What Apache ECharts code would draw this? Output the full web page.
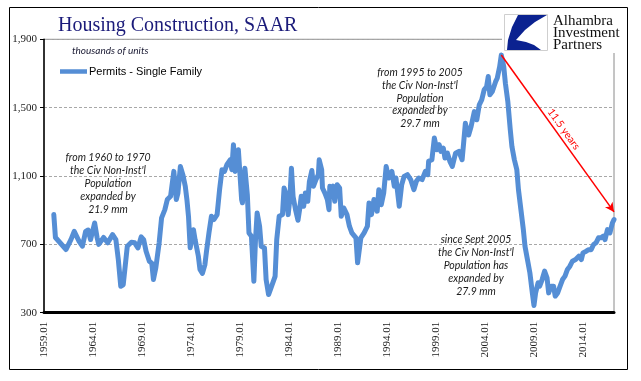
<!DOCTYPE html>
<html><head><meta charset="utf-8">
<script src="https://cdn.jsdelivr.net/npm/echarts@6/dist/echarts.min.js"></script>
<style>html,body{margin:0;padding:0;background:#fff}#c{width:641px;height:381px}</style>
</head><body><div id="c"></div>
<script>
// ---- data (thousands of units, SAAR) ----
const dates = ['1960.01','1960.03','1961.04','1961.10','1962.02','1962.08','1962.12','1963.04','1963.07','1963.10',
'1964.03','1964.06','1964.08','1965.02','1965.07','1966.01','1966.05','1966.08','1966.11','1967.02',
'1967.04','1967.07','1967.12','1968.04','1968.08','1968.12','1969.03','1969.06','1969.10','1970.01',
'1970.03','1970.06','1970.10','1971.01','1971.05','1971.08','1971.12','1972.04','1972.07','1972.09',
'1972.12','1973.03','1973.06','1973.08','1973.10','1973.12','1974.02','1974.04','1974.06','1974.10',
'1974.12','1975.03','1975.06','1975.08','1975.11','1976.02','1976.05','1976.09','1976.12','1977.03',
'1977.06','1977.09','1978.01','1978.03','1978.05','1978.07','1978.09','1978.11','1979.01','1979.03',
'1979.04','1979.07','1979.10','1979.12','1980.03','1980.06','1980.08','1980.10','1981.01','1981.03',
'1981.07','1981.09','1981.12','1982.03','1982.08','1982.10','1983.01','1983.05','1983.07','1983.09',
'1983.12','1984.02','1984.04','1984.06','1984.09','1984.12','1985.02','1985.04','1985.07','1985.09',
'1985.12','1986.02','1986.05','1986.07','1986.10','1987.01','1987.02','1987.05','1987.06','1987.09',
'1987.12','1988.02','1988.03','1988.04','1988.07','1988.09','1988.12','1989.03','1989.05','1989.08',
'1989.12','1990.03','1990.06','1990.11','1991.01','1991.05','1991.09','1992.01','1992.03','1992.06',
'1992.09','1993.01','1993.03','1993.06','1993.09','1993.12','1994.03','1994.07','1994.10','1994.12',
'1995.04','1995.07','1995.10','1996.02','1996.06','1996.10','1997.01','1997.04','1997.08','1997.12',
'1998.03','1998.04','1998.08','1998.11','1999.02','1999.05','1999.07','1999.10','1999.12','2000.03',
'2000.06','2000.09','2001.01','2001.05','2001.09','2001.11','2002.01','2002.03','2002.05','2002.08',
'2002.12','2003.03','2003.06','2003.09','2003.12','2004.03','2004.05','2004.07','2004.10','2005.02',
'2005.04','2005.07','2005.09','2005.12','2006.02','2006.05','2006.08','2006.10','2007.01','2007.04',
'2007.06','2007.09','2007.12','2008.02','2008.05','2008.08','2008.11','2009.01','2009.03','2009.06',
'2009.08','2009.11','2010.02','2010.05','2010.07','2010.10','2011.01','2011.03','2011.06','2011.09',
'2011.12','2012.03','2012.06','2012.09','2012.12','2013.04','2013.08','2013.11','2014.01','2014.05',
'2014.08','2014.11','2015.02','2015.05','2015.08','2015.11','2016.02','2016.04','2016.07','2016.10',
'2017.01','2017.03'];
const permits = [874,740,670,728,776,718,689,776,784,728,
825,740,700,740,709,757,728,611,455,463,
553,689,712,709,679,744,728,660,601,590,
494,565,709,855,903,962,981,1127,962,1000,
1156,1108,1040,962,860,680,669,786,728,631,
553,530,580,660,767,864,845,874,1020,1137,
1127,1166,1195,1137,1283,1127,1195,1254,1244,962,
943,1146,991,767,748,484,728,884,806,689,
679,494,406,445,513,728,864,874,1030,1000,
874,962,1146,981,903,841,903,981,923,1000,
952,1068,1132,1040,1079,1108,1195,1137,1030,1000,
962,903,1040,1020,1040,952,1049,1030,864,913,
874,806,767,738,592,738,767,806,942,874,
962,894,1020,932,1000,1156,1088,1127,1040,1088,
923,1049,1098,1108,1079,1020,1069,1088,1079,1127,
1108,1186,1195,1322,1254,1283,1244,1263,1205,1234,
1186,1156,1234,1244,1195,1300,1409,1361,1340,1390,
1477,1429,1516,1545,1604,1623,1682,1575,1594,1652,
1672,1740,1808,1740,1643,1535,1370,1273,1195,1137,
1020,903,786,689,611,533,416,342,416,475,
455,494,543,504,416,455,455,397,416,455,
494,514,553,572,601,611,631,611,650,660,
669,669,699,709,738,738,748,728,786,767,
825,845];
const xTickLabels = ['1959.01','1964.01','1969.01','1974.01','1979.01','1984.01','1989.01','1994.01','1999.01','2004.01','2009.01','2014.01'];
const yTickValues = [300, 700, 1100, 1500, 1900];
const seriesName = 'Permits - Single Family';
const unitsLabel = 'thousands of units';
const titleText = 'Housing Construction, SAAR';
const arrowFrom = ['2005.09', 1808];
const arrowTo = ['2017.03', 890];
const arrowLabel = '11.5 years';
const notes = [
  "from 1960 to 1970\nthe Civ Non-Inst'l\nPopulation\nexpanded by\n21.9 mm",
  "from 1995 to 2005\nthe Civ Non-Inst'l\nPopulation\nexpanded by\n29.7 mm",
  "since Sept 2005\nthe Civ Non-Inst'l\nPopulation has\nexpanded by\n27.9 mm"
];
const logoLines = 'Alhambra\nInvestment\nPartners';

// ---- build ----
function monthIndex(d){ const p = d.split('.').map(Number); return (p[0]-1959)*12 + (p[1]-1); }
const data = dates.map((d,i)=>[monthIndex(d), permits[i]]);
const xMax = monthIndex(dates[dates.length-1]);
const step = 60;

const chart = echarts.init(document.getElementById('c'), null, {renderer:'canvas'});
const noteFont = 'italic 10.5px Lato';
chart.setOption({
  animation:false,
  backgroundColor:'#fff',
  title:{text:titleText, left:53, top:11,
    textStyle:{fontFamily:'Liberation Serif', fontSize:20, fontWeight:'normal', color:'#1b1b7a'}},
  legend:{left:60, top:66, padding:0, icon:'rect', itemWidth:27, itemHeight:4.5, itemGap:0,
    textStyle:{fontFamily:'Liberation Sans', fontSize:11, color:'#000', padding:[0,0,0,-3]},
    data:[seriesName]},
  grid:{left:44, right:27, top:39.3, bottom:68.3, show:true, borderColor:'#8a8a8a', borderWidth:1, backgroundColor:'transparent'},
  xAxis:{type:'value', min:0, max:xMax, interval:step,
    axisLine:{show:true, onZero:false, lineStyle:{color:'#000', width:3}},
    axisTick:{show:false}, splitLine:{show:false},
    axisLabel:{rotate:90, margin:9, showMaxLabel:false, fontFamily:'Liberation Serif', fontSize:11, color:'#222',
      formatter:(v)=> (v % step === 0 && xTickLabels[v/step]) ? xTickLabels[v/step] : ''}},
  yAxis:{type:'value', min:yTickValues[0], max:yTickValues[yTickValues.length-1], interval:400,
    axisLine:{show:true, lineStyle:{color:'#000', width:1.5}},
    axisTick:{show:true, length:4, lineStyle:{color:'#000'}},
    splitLine:{show:true, lineStyle:{color:'#a8a8a8', type:[3,2], width:1}},
    axisLabel:{margin:7, fontFamily:'Liberation Serif', fontSize:11, color:'#222',
      formatter:(v)=> v.toLocaleString('en-US')}},
  series:[{
    name:seriesName, type:'line', data:data, showSymbol:false, symbol:'none',
    lineStyle:{color:'#558ed5', width:5, cap:'round', join:'round'},
    itemStyle:{color:'#558ed5'},
    markLine:{silent:true, symbol:['none','arrow'], symbolSize:[7,9], animation:false,
      lineStyle:{color:'#ff0000', width:1.5, type:'solid'},
      label:{show:true, position:'middle', formatter:arrowLabel, color:'#ff0000', fontFamily:'Lato', fontSize:10.5, distance:2},
      data:[[{coord:[monthIndex(arrowFrom[0]), arrowFrom[1]]},{coord:[monthIndex(arrowTo[0]), arrowTo[1]]}]]}
  }],
  graphic:[
    {type:'rect', z:100, shape:{x:9.5,y:7.5,width:618,height:362}, style:{fill:'none', stroke:'#000', lineWidth:1}},
    {type:'text', z:100, x:72, y:51, style:{text:unitsLabel, font:'italic 10px Lato', fill:'#1a1a33', verticalAlign:'middle'}},
    {type:'text', z:100, x:108, y:151, style:{text:notes[0], font:noteFont, lineHeight:13, fill:'#1a1a1a', align:'center', verticalAlign:'top'}},
    {type:'text', z:100, x:420, y:66.5, style:{text:notes[1], font:noteFont, lineHeight:12.7, fill:'#1a1a1a', align:'center', verticalAlign:'top'}},
    {type:'text', z:100, x:476, y:233.5, style:{text:notes[2], font:noteFont, lineHeight:13, fill:'#1a1a1a', align:'center', verticalAlign:'top'}},
    {type:'rect', z:100, shape:{x:502,y:12,width:124,height:41}, style:{fill:'#fff'}},
    {type:'rect', z:101, shape:{x:504.5,y:14.5,width:43,height:36}, style:{fill:'#fff', stroke:'#cfcfcf', lineWidth:1}},
    {type:'polygon', z:102, shape:{points:[[518,15],[547,15],[535,22],[525,30],[516,40],[526,42],[534,45],[541,50],[507,50],[508,40],[512,27]]}, style:{fill:'#0b2290'}},
    {type:'text', z:102, x:553, y:15, style:{text:logoLines, font:'15px Liberation Serif', lineHeight:12, fill:'#111', verticalAlign:'top'}}
  ]
});
</script></body></html>
